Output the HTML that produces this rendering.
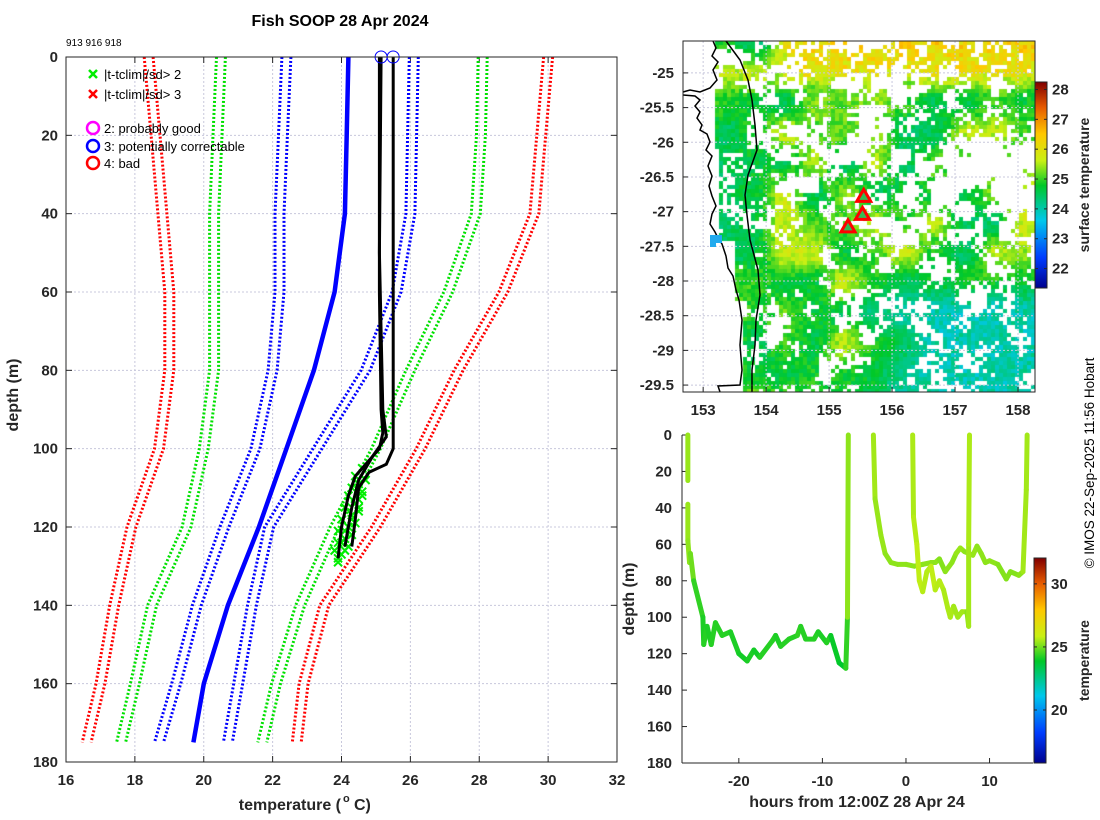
<!DOCTYPE html>
<html><head><meta charset="utf-8"><style>
body{margin:0;background:#fff;}
svg{display:block;font-family:"Liberation Sans",sans-serif;}
.tk{font-weight:bold;font-size:15px;fill:#262626;}
</style></head><body>
<div style="position:relative;width:1100px;height:820px">
<svg id="s" width="1100" height="820" viewBox="0 0 1100 820"></svg>
<canvas id="map" width="352" height="351" style="position:absolute;left:683px;top:41px"></canvas>
<svg id="s2" width="1100" height="820" style="position:absolute;left:0;top:0"></svg>
</div>
<script>
// ---------- Left profile data ----------
const climDepths=[0,20,40,60,80,100,120,140,160,175];
const redLeft=[18.4,18.6,18.8,19.0,19.0,18.7,17.9,17.4,17.0,16.6];
const greenLeft=[20.5,20.4,20.3,20.3,20.3,20.0,19.5,18.5,18.0,17.6];
const blueLeft=[22.4,22.3,22.2,22.2,22.0,21.5,20.6,19.8,19.2,18.7];
const blueMean=[24.2,24.15,24.1,23.8,23.2,22.4,21.6,20.7,20.0,19.7];
const blueRight=[26.1,26.05,26.0,25.6,24.7,23.3,21.9,21.4,21.0,20.7];
const greenRight=[28.1,28.05,27.9,27.1,26.0,25.0,23.8,22.8,22.1,21.7];
const redRight=[30.0,29.8,29.6,28.7,27.4,26.3,25.0,23.5,22.9,22.7];
const profADepth=[0,20,60,90,96,100,103,107,112,120,128];
const profATemp=[25.1,25.1,25.1,25.15,25.2,25.1,24.8,24.4,24.2,24.0,23.9];
const profBDepth=[0,50,90,97,102,108,115,125];
const profBTemp=[25.15,25.1,25.2,25.3,24.9,24.5,24.3,24.1];
const profCDepth=[0,50,95,100,104,106,110,118,125];
const profCTemp=[25.5,25.5,25.5,25.5,25.3,24.8,24.5,24.4,24.3];
const flagDepth=[105,107,108,110,111,112,113,114,115,116,117,118,119,120,121,122,123,124,125,126,127,128,129,112,115,118,121,124,109,126];
const flagTemp=[24.6,24.4,24.7,24.3,24.6,24.2,24.5,24.4,24.1,24.5,24.3,24.0,24.4,24.2,23.9,24.3,24.1,23.9,24.2,23.8,24.0,23.9,23.9,24.6,24.5,24.3,24.1,24.0,24.5,24.1];
const topCircleTemps=[25.15,25.5];
const xTicks=[16,18,20,22,24,26,28,30,32];
const yTicks=[0,20,40,60,80,100,120,140,160,180];
// ---------- Map data ----------
const lonTicks=[153,154,155,156,157,158];
const latTicks=[-25,-25.5,-26,-26.5,-27,-27.5,-28,-28.5,-29,-29.5];
const stationLon=[155.55,155.53,155.3];
const stationLat=[-26.78,-27.04,-27.22];
const sstTicks=[22,23,24,25,26,27,28];
// ---------- Time-depth data ----------
const hrTicks=[-20,-10,0,10];
const seg1Hour=[-26.1,-26.1,null,-26.1,-26.1,-25.9,-25.8,-25.4,-24.3,-24.2,-23.8,-23.3,-22.8,-22,-21,-20,-19,-18.2,-17.5,-16,-15.6,-15,-14,-13,-12.6,-12,-11,-10.5,-9.5,-9,-8,-7.2,-7.0,-6.9];
const seg1Depth=[0,25,null,38,58,70,65,80,100,115,105,115,103,110,108,120,124,118,122,113,110,116,112,110,105,112,112,108,114,110,125,128,100,0];
const seg1Temp=[25.4,25.4,null,25.4,25.4,25.3,25.3,25.0,24.4,24.2,24.3,24.2,24.3,24.3,24.3,24.2,24.1,24.2,24.1,24.3,24.3,24.2,24.3,24.3,24.4,24.3,24.3,24.3,24.2,24.3,24.0,23.9,24.4,25.3];
const seg2Hour=[-3.9,-3.7,-3,-2.5,-1.8,-1,0,1,2,3,3.5,4,4.7,5.5,6,6.5,7,8,8.5,9,9.5,10,11,11.5,12,12.5,13.5,14,14.4,14.5];
const seg2Depth=[0,35,55,65,70,71,71,72,71,70,70,68,75,70,65,62,64,66,61,65,70,69,71,75,79,75,77,75,30,0];
const seg2Temp=[25.5,25.5,25.4,25.4,25.3,25.3,25.3,25.3,25.3,25.3,25.3,25.3,25.2,25.3,25.3,25.4,25.4,25.3,25.4,25.3,25.3,25.3,25.3,25.2,25.2,25.2,25.2,25.3,25.5,25.5];
const seg3Hour=[0.8,0.9,1.3,1.6,2,2.5,3,3.5,4,4.5,5,5.3,5.7,6.2,6.7,7.3,7.5,7.5,7.6];
const seg3Depth=[0,45,60,80,86,75,72,85,80,85,95,100,94,100,97,97,105,60,0];
const seg3Temp=[25.6,25.6,25.7,25.8,25.8,25.7,25.7,25.8,25.7,25.7,25.6,25.6,25.6,25.5,25.5,25.5,25.3,25.5,25.6];
const cbTicks=[20,25,30];

const NS="http://www.w3.org/2000/svg";
const S=document.getElementById('s'), S2=document.getElementById('s2');
function mk(p,tag,at){const e=document.createElementNS(NS,tag);for(const k in at)e.setAttribute(k,at[k]);p.appendChild(e);return e;}
function txt(p,x,y,t,at){const e=mk(p,'text',Object.assign({x:x,y:y},at||{}));e.textContent=t;return e;}

// ===== Left axes =====
const L={x0:66,x1:617,y0:57,y1:762};
const X=t=>L.x0+(t-16)/16*(L.x1-L.x0);
const Y=d=>L.y0+d/180*(L.y1-L.y0);
xTicks.forEach(t=>{
  const g=mk(S,'line',{x1:X(t),x2:X(t),y1:L.y0,y2:L.y1,stroke:'#c8c8dc','stroke-dasharray':'2,2','stroke-width':1});
  
  mk(S,'line',{x1:X(t),x2:X(t),y1:L.y1,y2:L.y1-6,stroke:'#262626'});
  mk(S,'line',{x1:X(t),x2:X(t),y1:L.y0,y2:L.y0+6,stroke:'#262626'});
  const e=txt(S,X(t),L.y1+23,t,{class:'tk','text-anchor':'middle'});
  
});
yTicks.forEach(d=>{
  const g=mk(S,'line',{x1:L.x0,x2:L.x1,y1:Y(d),y2:Y(d),stroke:'#c8c8dc','stroke-dasharray':'2,2'});
  
  mk(S,'line',{x1:L.x0,x2:L.x0+6,y1:Y(d),y2:Y(d),stroke:'#262626'});
  mk(S,'line',{x1:L.x1,x2:L.x1-6,y1:Y(d),y2:Y(d),stroke:'#262626'});
  const e=txt(S,L.x0-8,Y(d)+5,d,{class:'tk','text-anchor':'end'});
  
});
function poly(p,xs,ys,fx,fy,at,name){
  let pts=[];
  for(let i=0;i<xs.length;i++){if(xs[i]==null)continue;pts.push(fx(xs[i]).toFixed(1)+','+fy(ys[i]).toFixed(1));}
  const e=mk(p,'polyline',Object.assign({points:pts.join(' '),fill:'none'},at));
  return e;
}
const clim=[[redLeft,'#ff0000','clim-red-low'],[greenLeft,'#00e000','clim-green-low'],[blueLeft,'#0000ff','clim-blue-low'],[blueRight,'#0000ff','clim-blue-high'],[greenRight,'#00e000','clim-green-high'],[redRight,'#ff0000','clim-red-high']];
clim.forEach(c=>{
  [-0.13,0.13].forEach(o=>poly(S,c[0].map(v=>v+o),climDepths,X,Y,{stroke:c[1],'stroke-width':3,'stroke-dasharray':'2,2'},c[2]));
});
poly(S,blueMean,climDepths,X,Y,{stroke:'#0000ff','stroke-width':4.5},'clim-mean');
for(let i=0;i<flagDepth.length;i++){
  const x=X(flagTemp[i]),y=Y(flagDepth[i]);
  const e=mk(S,'path',{d:`M${x-4},${y-4}L${x+4},${y+4}M${x-4},${y+4}L${x+4},${y-4}`,stroke:'#00ee00','stroke-width':2});
  
}
poly(S,profATemp,profADepth,X,Y,{stroke:'#000','stroke-width':3},'profile-913');
poly(S,profBTemp,profBDepth,X,Y,{stroke:'#000','stroke-width':3},'profile-916');
poly(S,profCTemp,profCDepth,X,Y,{stroke:'#000','stroke-width':3},'profile-918');
topCircleTemps.forEach(t=>{const e=mk(S,'circle',{cx:X(t),cy:Y(0),r:6,fill:'none',stroke:'#0000ff','stroke-width':1});
  });
mk(S,'rect',{x:L.x0,y:L.y0,width:L.x1-L.x0,height:L.y1-L.y0,fill:'none',stroke:'#262626','stroke-width':1});
(function(){
  const g=mk(S,'g',{'font-size':'13px',fill:'#000'});
  const items=[['x','#00ee00','|t-tclim|/sd> 2',74],['x','#ff0000','|t-tclim|/sd> 3',94],['o','#ff00ff','2: probably good',128],['o','#0000ff','3: potentially correctable',146],['o','#ff0000','4: bad',163]];
  items.forEach(it=>{
    const y=it[3];
    if(it[0]=='x') mk(g,'path',{d:`M89,${y-4}L97,${y+4}M89,${y+4}L97,${y-4}`,stroke:it[1],'stroke-width':2.5});
    else mk(g,'circle',{cx:93,cy:y,r:6,fill:'none',stroke:it[1],'stroke-width':2.5});
    const e=txt(g,104,y+5,it[2],{});
  });
})();
txt(S,340,26,'Fish SOOP 28 Apr 2024',{'font-size':'16px','font-weight':'bold','text-anchor':'middle',fill:'#000'});
txt(S,66,46,'913 916 918',{'font-size':'10px',fill:'#000'});
txt(S,341,810,'temperature (',{'font-size':'16px','font-weight':'bold','text-anchor':'end',fill:'#262626'});
txt(S,343,802,'o',{'font-size':'11px','font-weight':'bold',fill:'#262626'});
txt(S,354,810,' C)',{'font-size':'16px','font-weight':'bold',fill:'#262626'});
txt(S,18,395,'depth (m)',{'font-size':'16px','font-weight':'bold','text-anchor':'middle',fill:'#262626',transform:'rotate(-90 18 395)'});

// ===== Map =====
const M={x0:683,x1:1035,y0:41,y1:392,lon0:152.68,lon1:158.27,lat0:-24.54,lat1:-29.6};
const MX=l=>M.x0+(l-M.lon0)/(M.lon1-M.lon0)*(M.x1-M.x0);
const MY=l=>M.y0+(l-M.lat0)/(M.lat1-M.lat0)*(M.y1-M.y0);
function cmap(f){f=Math.max(0,Math.min(1,f));
  const st=[[0,[0,0,140]],[0.15,[0,60,255]],[0.33,[0,200,235]],[0.5,[0,200,40]],[0.62,[200,240,20]],[0.75,[255,200,0]],[0.88,[230,90,0]],[1,[130,0,0]]];
  for(let i=1;i<st.length;i++){if(f<=st[i][0]){const a=st[i-1],b=st[i],t=(f-a[0])/(b[0]-a[0]);return 'rgb('+a[1].map((v,k)=>Math.round(v+(b[1][k]-v)*t)).join(',')+')';}}
  return 'rgb(130,0,0)';}
(function(){
  const c=document.getElementById('map').getContext('2d');
  c.fillStyle='#fff';c.fillRect(0,0,352,351);
  function h(i,j){let n=(i*374761393+j*668265263)|0;n=(n^(n>>>13))*1274126177|0;return ((n^(n>>>16))>>>0)/4294967295;}
  function sm(x,y,s){const i=Math.floor(x/s),j=Math.floor(y/s),fx=x/s-i,fy=y/s-j;
    const u=fx*fx*(3-2*fx),v=fy*fy*(3-2*fy);
    const a=h(i,j),b=h(i+1,j),cc=h(i,j+1),d=h(i+1,j+1);return a*(1-u)*(1-v)+b*u*(1-v)+cc*(1-u)*v+d*u*v;}
  const cl=v=>Math.max(0,Math.min(1,v));
  const cs=4;
  for(let y=0;y<351;y+=cs)for(let x=0;x<352;x+=cs){
    const ay=y+41, ax=x+683;
    const coast=ay<150?712:ay<240?716:ay<300?735:742;
    if(ax<coast)continue;
    const cloud=sm(x,y,14)*0.6+h(x,y+7)*0.4;
    // smooth threshold field
    let thr=0.58;
    const midCloud=cl(1-Math.abs(ay-165)/80)*cl((ax-760)/40);
    thr-=0.12*midCloud;
    thr-=0.16*cl((ax-930)/30)*cl(1-Math.abs(ay-165)/75);
    thr+=0.15*cl(1-Math.abs(ay-270)/35)*cl((900-ax)/40);
    if(ay<95)thr-=0.06;
    if(cloud>thr)continue;
    let T=25.05+(sm(x+50,y,30)-0.5)*1.4+(h(x+3,y)-0.5)*0.5;
    const wt=cl((95-ay)/25)*cl((ax-760)/30);
    T=T*(1-wt)+(26.3+(h(x,y)-0.5)*0.9-(ay-41)/120)*wt;
    const w=cl((ax-840)/90)*cl((ay-250)/60);
    T=T*(1-w)+(24.0+(h(x,y+1)-0.5)*0.6)*w;
    c.fillStyle=cmap((T-21.35)/(28.25-21.35));c.fillRect(x,y,cs,cs);
  }
})();
lonTicks.forEach(l=>{
  mk(S2,'line',{x1:MX(l),x2:MX(l),y1:M.y0,y2:M.y1,stroke:'#c8c8dc','stroke-dasharray':'2,2'});
  mk(S2,'line',{x1:MX(l),x2:MX(l),y1:M.y1,y2:M.y1-5,stroke:'#262626'});
  const e=txt(S2,MX(l),M.y1+23,l,{class:'tk','text-anchor':'middle'});
});
latTicks.forEach(l=>{
  mk(S2,'line',{x1:M.x0,x2:M.x1,y1:MY(l),y2:MY(l),stroke:'#c8c8dc','stroke-dasharray':'2,2'});
  mk(S2,'line',{x1:M.x0,x2:M.x0+5,y1:MY(l),y2:MY(l),stroke:'#262626'});
  const e=txt(S2,M.x0-9,MY(l)+5,l,{class:'tk','text-anchor':'end'});
});
(function(){
  const c=mk(S2,'path',{d:'M713,41 L716,48 L712,56 L718,62 L713,70 L717,80 L710,88 L700,92 L690,90 L683,92 M683,95 L695,96 L700,100 L695,106 L700,112 L697,118 L702,125 L700,130 L707,134 L710,142 L706,150 L712,156 L708,166 L712,176 L709,186 L712,196 L716,206 L712,214 L710,224 L715,232 L718,238 L722,244 L726,256 L728,268 L733,276 L736,290 L739,300 L742,320 L740,345 L742,370 L740,385 L718,386 L720,392',fill:'none',stroke:'#000','stroke-width':1.5});
  
  const s=mk(S2,'path',{d:'M726,41 L740,60 L748,80 L752,100 L755,125 L757,150 L748,175 L745,195 L747,215 L750,240 L758,270 L760,295 L756,320 L755,345 L752,370 L752,392',fill:'none',stroke:'#000','stroke-width':1.5});
  
  const b=mk(S2,'path',{d:'M710,235 h12 v8 h-6 v4 h-6z',fill:'#22aaee'});
})();
for(let i=0;i<stationLon.length;i++){
  const x=MX(stationLon[i]),y=MY(stationLat[i]);
  const e=mk(S2,'path',{d:`M${x},${y-7}L${x+7},${y+5}L${x-7},${y+5}Z`,fill:'#33bb55',stroke:'#ff0000','stroke-width':3});
  
}
mk(S2,'rect',{x:M.x0,y:M.y0,width:M.x1-M.x0,height:M.y1-M.y0,fill:'none',stroke:'#262626'});
function colorbar(x,y0,y1,vmin,vmax,ticks,name,label,lx){
  const g=mk(S2,'g',{});
  for(let y=y0;y<y1;y++){mk(g,'rect',{x:x,y:y,width:12,height:1.2,fill:cmap(1-(y-y0)/(y1-y0))});}
  mk(g,'rect',{x:x,y:y0,width:12,height:y1-y0,fill:'none',stroke:'#262626'});
  ticks.forEach(t=>{const y=y1-(t-vmin)/(vmax-vmin)*(y1-y0);
    mk(g,'line',{x1:x,x2:x+3,y1:y,y2:y,stroke:'#262626'});mk(g,'line',{x1:x+12,x2:x+9,y1:y,y2:y,stroke:'#262626'});
    txt(g,x+17,y+5,t,{class:'tk'});});
  const cy=(y0+y1)/2;
  txt(g,lx,cy,label,{'font-size':'14px','font-weight':'bold','text-anchor':'middle',fill:'#262626',transform:`rotate(-90 ${lx} ${cy})`});
}
colorbar(1035,82,288,21.35,28.25,sstTicks,'sst-colorbar','surface temperature',1089);

// ===== Time-depth axes =====
const R={x0:682,x1:1033,y0:435,y1:763,h0:-26.8,h1:15.2};
const RX=h=>R.x0+(h-R.h0)/(R.h1-R.h0)*(R.x1-R.x0);
const RY=d=>R.y0+d/180*(R.y1-R.y0);
mk(S2,'line',{x1:R.x0,x2:R.x0,y1:R.y0,y2:R.y1,stroke:'#262626'});
mk(S2,'line',{x1:R.x0,x2:R.x1,y1:R.y1,y2:R.y1,stroke:'#262626'});
yTicks.forEach(d=>{mk(S2,'line',{x1:R.x0,x2:R.x0+5,y1:RY(d),y2:RY(d),stroke:'#262626'});
  const e=txt(S2,R.x0-10,RY(d)+5,d,{class:'tk','text-anchor':'end'});});
hrTicks.forEach(h=>{mk(S2,'line',{x1:RX(h),x2:RX(h),y1:R.y1,y2:R.y1-5,stroke:'#262626'});
  const e=txt(S2,RX(h),R.y1+23,h,{class:'tk','text-anchor':'middle'});});
function tseg(hs,ds,ts,name){
  for(let i=1;i<hs.length;i++){
    if(hs[i]==null||hs[i-1]==null)continue;
    const e=mk(S2,'line',{x1:RX(hs[i-1]),y1:RY(ds[i-1]),x2:RX(hs[i]),y2:RY(ds[i]),stroke:cmap((ts[i]-15.8)/(32.05-15.8)),'stroke-width':5,'stroke-linecap':'round'});
    
  }
}
tseg(seg1Hour,seg1Depth,seg1Temp,'track-segment-1');
tseg(seg2Hour,seg2Depth,seg2Temp,'track-segment-2');
tseg(seg3Hour,seg3Depth,seg3Temp,'track-segment-3');
txt(S2,857,807,'hours from 12:00Z 28 Apr 24',{'font-size':'16px','font-weight':'bold','text-anchor':'middle',fill:'#262626'});
txt(S2,634,599,'depth (m)',{'font-size':'16px','font-weight':'bold','text-anchor':'middle',fill:'#262626',transform:'rotate(-90 634 599)'});
colorbar(1034,558,763,15.8,32.05,cbTicks,'temperature-colorbar','temperature',1089);
txt(S2,1094,463,'© IMOS 22-Sep-2025 11:56 Hobart',{'font-size':'13.5px','text-anchor':'middle',fill:'#000',transform:'rotate(-90 1094 463)'});
</script>
</body></html>
